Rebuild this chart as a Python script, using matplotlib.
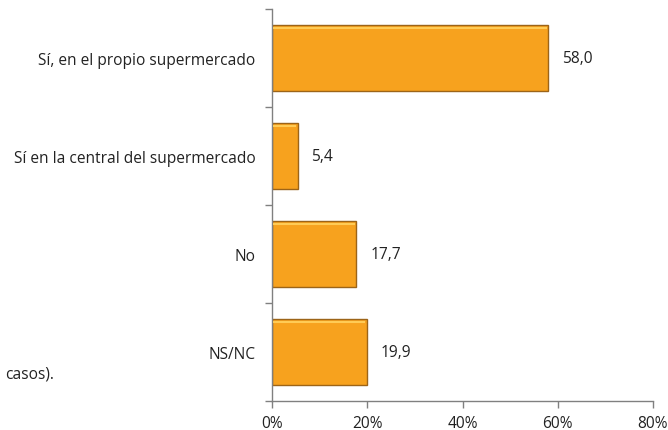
import matplotlib
matplotlib.use("Agg")
import matplotlib.pyplot as plt
from matplotlib.ticker import FixedLocator

categories = ["Sí, en el propio supermercado", "Sí en la central del supermercado", "No", "NS/NC"]
values = [58.0, 5.4, 17.7, 19.9]
xticks = [0, 20, 40, 60, 80]
xtick_labels = ["0%", "20%", "40%", "60%", "80%"]

plt.rcParams['font.family'] = ['Open Sans', 'DejaVu Sans']
FS = 11.2
H = 0.67

fig = plt.figure(figsize=(6.68, 4.31), dpi=100)
ax = fig.add_axes([272/668, 1-402/431, (653-272)/668, (402-10)/431])

ypos = list(range(len(categories)))
ax.barh(ypos, values, height=H, color="#F7A21E", edgecolor="#9C6418", linewidth=1.0, zorder=2)
# light top highlight for the bevelled look
ax.hlines([y - H/2 + 0.025 for y in ypos], 0.3, [v - 0.3 for v in values],
          colors="#FFCB55", linewidth=1.5, zorder=3)
for y, v in zip(ypos, values):
    ax.text(v + 2.9, y, f"{v:.1f}".replace(".", ","), va="center", ha="left", fontsize=FS, color="#222222")

ax.set_xlim(0, 80)
ax.set_ylim(len(categories) - 0.5, -0.5)
ax.set_xticks(xticks)
ax.set_xticklabels(xtick_labels, fontsize=FS, color="#222222")
ax.set_yticks(ypos)
ax.set_yticklabels(categories, fontsize=FS, color="#222222")
ax.tick_params(axis="y", length=0, pad=12)
ax.yaxis.set_minor_locator(FixedLocator([-0.5, 0.5, 1.5, 2.5, 3.5]))
ax.tick_params(axis="y", which="minor", length=5, color="#808080", width=1)
ax.tick_params(axis="x", length=5, color="#808080", width=1, pad=5)
for s in ["top", "right"]:
    ax.spines[s].set_visible(False)
for s in ["left", "bottom"]:
    ax.spines[s].set_color("#808080")
    ax.spines[s].set_linewidth(1)

fig.text(5/668, 1-375/431, "casos).", fontsize=FS, color="#222222", va="center", ha="left")

fig.savefig("out.png", dpi=100, facecolor="white")
